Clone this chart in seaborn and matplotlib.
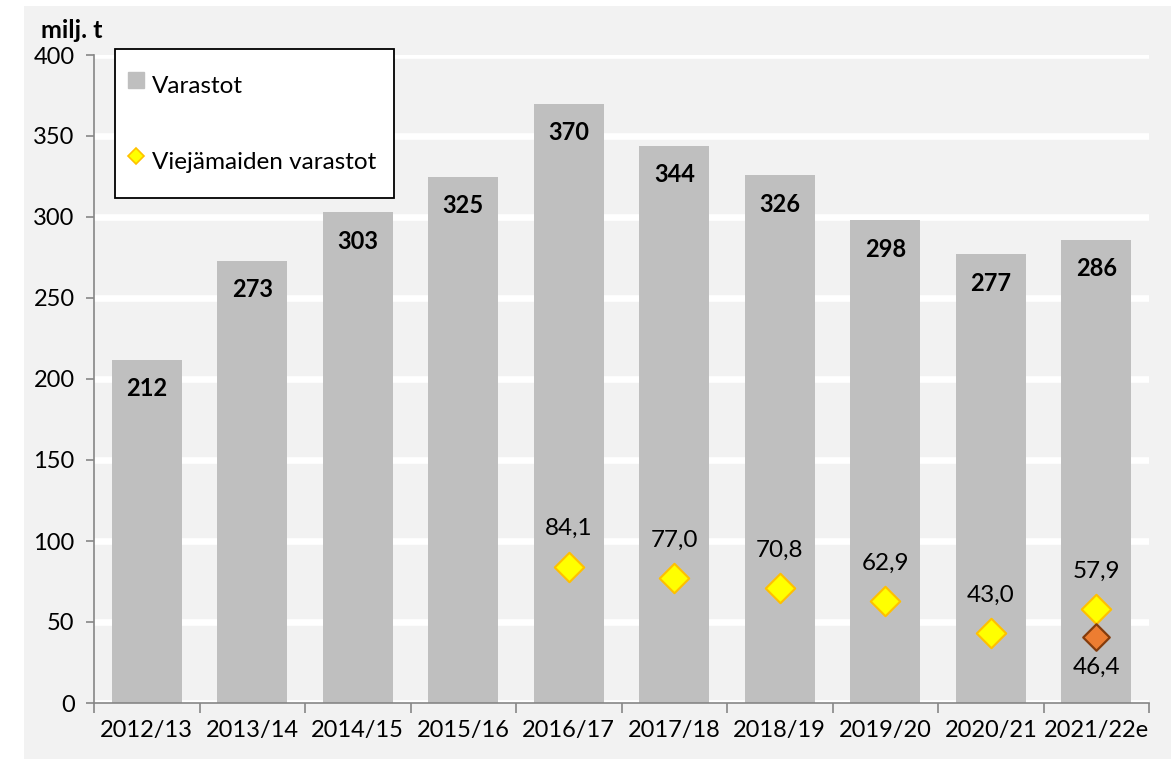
import numpy as np
import pandas as pd
import matplotlib
matplotlib.use("Agg")
import matplotlib.pyplot as plt
from matplotlib.patches import Rectangle
from matplotlib.lines import Line2D
from matplotlib.ticker import FixedLocator
import seaborn as sns

# data
seasons = ["2012/13", "2013/14", "2014/15", "2015/16", "2016/17",
           "2017/18", "2018/19", "2019/20", "2020/21", "2021/22e"]
stocks = [212, 273, 303, 325, 370, 344, 326, 298, 277, 286]
exporter_stocks = [np.nan, np.nan, np.nan, np.nan, 84.1, 77.0, 70.8, 62.9, 43.0, 57.9]
# second estimate for the last season (marker drawn lower than its label value)
extra_season = ["2021/22e"]
extra_pos = [40.7]
extra_label = ["46,4"]

bar_color = "#BFBFBF"
bg = "#F2F2F2"

sns.set_style("white")
plt.rcParams["font.family"] = ["Lato", "DejaVu Sans"]
plt.rcParams["text.color"] = "black"
plt.rcParams["xtick.color"] = "black"
plt.rcParams["ytick.color"] = "black"

df = pd.DataFrame({"kausi": seasons, "varastot": stocks, "vienti": exporter_stocks})
df_extra = pd.DataFrame({"kausi": extra_season, "arvo": extra_pos})

fig = plt.figure(figsize=(11.71, 7.59), dpi=100)
fig.patch.set_facecolor("white")
fig.patches.append(Rectangle((24 / 1171, 0), 1, 1 - 6 / 759, transform=fig.transFigure,
                             facecolor=bg, edgecolor="none", zorder=-10))
ax = fig.add_axes([94 / 1171, 1 - 703 / 759, (1149 - 94) / 1171, (703 - 55) / 759])
ax.set_facecolor(bg)

sns.barplot(data=df, x="kausi", y="varastot", order=seasons, color=bar_color,
            width=0.66, saturation=1, ax=ax, zorder=2)
for p in ax.patches:
    p.set_edgecolor("none")

sns.stripplot(data=df, x="kausi", y="vienti", order=seasons, jitter=False,
              marker="D", s=15, color="#FFFF00", edgecolor="#FFC000", linewidth=1.5,
              ax=ax, zorder=4)
sns.stripplot(data=df_extra, x="kausi", y="arvo", order=seasons, jitter=False,
              marker="D", s=13.5, color="#ED7D31", edgecolor="#843C0C", linewidth=1.6,
              ax=ax, zorder=5)

# labels
for i, v in enumerate(stocks):
    ax.text(i, v - 18, f"{v}", ha="center", va="center", fontsize=17,
            fontweight="bold", zorder=6)
for i, v in enumerate(exporter_stocks):
    if not np.isnan(v):
        ax.text(i, v + 23.5, f"{v:.1f}".replace(".", ","), ha="center", va="center",
                fontsize=17.5, zorder=6)
for s, v, lab in zip(extra_season, extra_pos, extra_label):
    ax.text(seasons.index(s), v - 18.5, lab, ha="center", va="center",
            fontsize=17.5, zorder=6)

ax.set_xlim(-0.5, len(seasons) - 0.5)
ax.set_ylim(0, 400)
ax.set_yticks(range(0, 401, 50))
ax.yaxis.grid(True, color="white", linewidth=4.8)
ax.set_axisbelow(True)
ax.set_xlabel("")
ax.set_ylabel("")

for side in ["top", "right"]:
    ax.spines[side].set_visible(False)
for side in ["left", "bottom"]:
    ax.spines[side].set_color("#868686")
    ax.spines[side].set_linewidth(1.2)

ax.tick_params(axis="y", which="major", length=6, width=1.2, color="#868686",
               labelsize=17, pad=8, left=True)
ax.tick_params(axis="x", which="major", length=0, labelsize=17, pad=12)
ax.xaxis.set_minor_locator(FixedLocator(np.arange(-0.5, len(seasons), 1.0)))
ax.tick_params(axis="x", which="minor", length=7, width=1.2, color="#868686", bottom=True)

fig.text(41 / 1171, 1 - 31 / 759, "milj. t", fontsize=18, fontweight="bold",
         ha="left", va="center")

handles = [
    Line2D([], [], marker="s", linestyle="none", markersize=11,
           markerfacecolor=bar_color, markeredgecolor=bar_color),
    Line2D([], [], marker="D", linestyle="none", markersize=8,
           markerfacecolor="#FFFF00", markeredgecolor="#FFC000", markeredgewidth=1.2),
]
leg = ax.legend(handles, ["Varastot", "Viejämaiden varastot"], loc="upper left",
                bbox_to_anchor=(115 / 1171, 1 - 49 / 759), bbox_transform=fig.transFigure,
                fontsize=17.5, frameon=True, fancybox=False, labelspacing=1.6,
                handleheight=2.0, handletextpad=0.5, handlelength=0.3,
                borderpad=0.72, borderaxespad=0)
leg.get_frame().set_edgecolor("black")
leg.get_frame().set_linewidth(1.3)
leg.get_frame().set_facecolor("white")
leg.get_frame().set_alpha(1)
leg.set_zorder(10)

fig.savefig("out.png", dpi=100)
